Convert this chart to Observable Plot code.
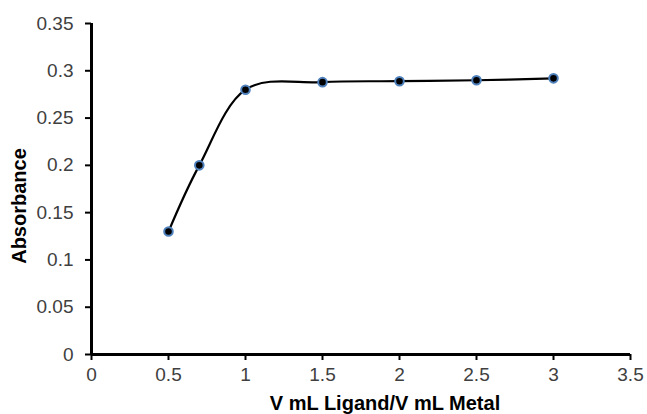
<!DOCTYPE html>
<html>
<head>
<meta charset="utf-8">
<script src="https://cdn.jsdelivr.net/npm/d3@7"></script>
<script src="https://cdn.jsdelivr.net/npm/@observablehq/plot@0.6"></script>
<style>
  html, body { margin: 0; padding: 0; background: #fff; }
  #chart svg { display: block; }
</style>
</head>
<body>
<div id="chart"></div>
<script>
const ratio = [0.5, 0.7, 1, 1.5, 2, 2.5, 3];
const absorbance = [0.13, 0.2, 0.28, 0.288, 0.289, 0.29, 0.292];
const xTicks = [0, 0.5, 1, 1.5, 2, 2.5, 3, 3.5];
const yTicks = [0, 0.05, 0.1, 0.15, 0.2, 0.25, 0.3, 0.35];
const xTitle = "V mL Ligand/V mL Metal";
const yTitle = "Absorbance";

const data = ratio.map((r, i) => ({r, a: absorbance[i]}));

const chart = Plot.plot({
  width: 647,
  height: 414,
  marginLeft: 91,
  marginRight: 17,
  marginTop: 23,
  marginBottom: 60,
  style: {fontFamily: "'Liberation Sans', Arial, sans-serif", fontSize: "19px", color: "#404040", background: "#fff"},
  x: {domain: [0, 3.5], ticks: xTicks, tickFormat: d => String(d), label: null},
  y: {domain: [0, 0.35], ticks: yTicks, tickFormat: d => String(d), label: null},
  marks: [
    Plot.axisX({ticks: xTicks, tickFormat: d => String(d), tickSize: 6, tickPadding: 7, stroke: "#000", strokeWidth: 2, fill: "#404040", fontSize: 19, label: null}),
    Plot.axisY({ticks: yTicks, tickFormat: d => String(d), tickSize: 6, tickPadding: 12, stroke: "#000", strokeWidth: 2, fill: "#404040", fontSize: 19, label: null}),
    Plot.ruleY([0], {stroke: "#000", strokeWidth: 3}),
    Plot.ruleX([0], {stroke: "#000", strokeWidth: 3}),
    Plot.line(data, {x: "r", y: "a", curve: "cardinal", stroke: "#000", strokeWidth: 2.2}),
    Plot.dot(data, {x: "r", y: "a", r: 4.3, fill: "#000", stroke: "#4f81bd", strokeWidth: 2}),
    Plot.text([xTitle], {frameAnchor: "bottom", textAnchor: "middle", dx: 24, dy: 49, fontWeight: "bold", fontSize: 20, fill: "#000", lineAnchor: "middle"}),
    Plot.text([yTitle], {frameAnchor: "left", textAnchor: "middle", rotate: -90, dx: -72, dy: 17, fontWeight: "bold", fontSize: 20, fill: "#000", lineAnchor: "middle"})
  ]
});
document.getElementById("chart").appendChild(chart);
</script>
</body>
</html>
